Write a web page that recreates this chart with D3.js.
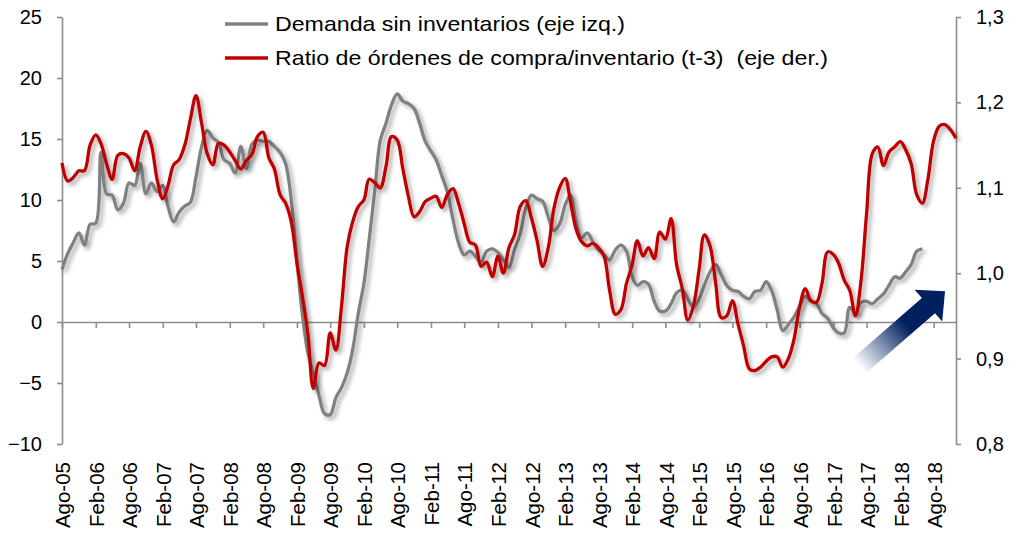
<!DOCTYPE html>
<html>
<head>
<meta charset="utf-8">
<script src="https://cdn.jsdelivr.net/npm/d3@7"></script>
<style>
  body { margin: 0; background: #fff; }
  svg { display: block; font-family: 'Liberation Sans', Arial, sans-serif; }
</style>
</head>
<body>
<svg id="chart" width="1020" height="541"></svg>
<script>
  'use strict';

  // monthly series, first value = Aug 2005
  var startMonth = new Date(2005, 7, 1);
  var endMonth = new Date(2018, 11, 1);

  var demanda = [
    4.3, 5.6, 6.5, 7.3, 6.3, 8.0, 8.1, 13.9, 10.5, 10.4, 9.2, 9.7,
    11.4, 11.2, 13.0, 10.5, 11.4, 10.7, 11.2, 9.5, 8.2, 9.0, 9.5, 9.8,
    11.9, 14.4, 15.7, 15.1, 14.7, 13.3, 13.0, 12.2, 14.4, 12.6, 14.6, 14.9,
    14.8, 14.8, 14.4, 13.9, 13.0, 10.0, 5.0, 0.8, -2.5, -4.2, -6.0, -7.5,
    -7.6, -6.2, -5.4, -4.2, -2.3, 0.7, 3.2, 6.7, 10.8, 14.9, 16.3, 17.8,
    18.7, 18.1, 17.9, 17.5, 16.3, 14.8, 14.0, 13.3, 12.0, 10.7, 8.4, 6.5,
    5.5, 5.8, 5.4, 4.9, 5.8, 6.0, 5.7, 5.1, 4.5, 5.9, 7.2, 9.3,
    10.4, 10.1, 9.9, 8.6, 7.5, 8.0, 9.6, 10.4, 8.2, 6.9, 7.3, 6.6,
    5.9, 5.5, 5.1, 5.9, 6.3, 5.8, 3.7, 3.0, 3.3, 3.1, 1.7, 0.9,
    0.9, 1.5, 2.4, 2.6, 1.9, 1.2, 1.9, 3.0, 4.1, 4.7, 3.9, 3.0,
    2.6, 2.5, 2.1, 1.9, 2.5, 2.6, 3.3, 2.6, 1.0, -0.7, -0.2, 0.4,
    1.3, 2.1, 1.7, 1.5, 0.7, 0.3, -0.5, -0.9, -0.9, 1.2, 0.7, 1.6,
    1.7, 1.5, 1.9, 2.3, 3.0, 3.7, 3.6, 4.1, 4.7, 5.8, 6.0
  ];

  var ratio = [
    1.129, 1.108, 1.112, 1.120, 1.120, 1.150, 1.162, 1.152, 1.128, 1.110, 1.138, 1.140,
    1.135, 1.120, 1.148, 1.166, 1.150, 1.110, 1.087, 1.102, 1.127, 1.133, 1.150, 1.180,
    1.208, 1.175, 1.140, 1.127, 1.152, 1.150, 1.142, 1.132, 1.122, 1.132, 1.139, 1.160,
    1.165, 1.135, 1.122, 1.092, 1.082, 1.060, 1.012, 0.975, 0.930, 0.865, 0.895, 0.892,
    0.930, 0.910, 0.960, 1.030, 1.060, 1.078, 1.086, 1.110, 1.106, 1.100, 1.125, 1.160,
    1.156, 1.122, 1.090, 1.066, 1.072, 1.084, 1.088, 1.090, 1.077, 1.092, 1.099, 1.082,
    1.058, 1.036, 1.033, 1.008, 1.013, 0.996, 1.020, 1.000, 1.030, 1.045, 1.078, 1.085,
    1.065, 1.038, 1.008, 1.030, 1.075, 1.100, 1.111, 1.085, 1.052, 1.037, 1.032, 1.035,
    1.030, 1.020, 0.980, 0.952, 0.957, 0.988, 1.010, 1.038, 1.020, 1.030, 1.017, 1.048,
    1.040, 1.064, 1.010, 0.982, 0.945, 0.962, 1.005, 1.045, 1.032, 0.990, 0.948, 0.950,
    0.968, 0.940, 0.915, 0.888, 0.886, 0.890, 0.897, 0.902, 0.902, 0.890, 0.900, 0.922,
    0.960, 0.982, 0.968, 0.966, 0.988, 1.025, 1.022, 1.012, 0.992, 0.980, 0.950, 0.990,
    1.070, 1.140, 1.148, 1.126, 1.142, 1.148, 1.154, 1.145, 1.128, 1.092, 1.082, 1.110,
    1.155, 1.172, 1.174, 1.168, 1.158
  ];

  var leftTicks = [-10, -5, 0, 5, 10, 15, 20, 25];
  var rightTicks = [0.8, 0.9, 1.0, 1.1, 1.2, 1.3];
  var monthNames = ['Ene', 'Feb', 'Mar', 'Abr', 'May', 'Jun', 'Jul', 'Ago', 'Sep', 'Oct', 'Nov', 'Dic'];
  var legendLabels = [
    'Demanda sin inventarios (eje izq.)',
    'Ratio de órdenes de compra/inventario (t-3)  (eje der.)'
  ];

  var grey = '#808080';
  var red = '#c00000';
  var axisGrey = '#8c8c8c';

  var plot = { left: 62, right: 956, top: 17, bottom: 444 };

  var svg = d3.select('#chart');

  var x = d3.scaleTime()
      .domain([startMonth, endMonth])
      .range([plot.left, plot.right]);
  var yLeft = d3.scaleLinear()
      .domain([-10, 25])
      .range([plot.bottom, plot.top]);
  var yRight = d3.scaleLinear()
      .domain([0.8, 1.3])
      .range([plot.bottom, plot.top]);

  var defs = svg.append('defs');

  var shadow = defs.append('filter')
      .attr('id', 'shadow')
      .attr('x', '-10%').attr('y', '-10%')
      .attr('width', '120%').attr('height', '120%');
  shadow.append('feDropShadow')
      .attr('dx', 3)
      .attr('dy', 3)
      .attr('stdDeviation', 2)
      .attr('flood-color', '#000')
      .attr('flood-opacity', 0.35);

  var grad = defs.append('linearGradient')
      .attr('id', 'arrowFill')
      .attr('x1', 0).attr('y1', 0)
      .attr('x2', 1).attr('y2', 0);
  grad.append('stop').attr('offset', '0').attr('stop-color', '#ffffff');
  grad.append('stop').attr('offset', '0.55').attr('stop-color', '#002060');
  grad.append('stop').attr('offset', '1').attr('stop-color', '#002060');

  function monthDate(i) {
    return d3.timeMonth.offset(startMonth, i);
  }

  // axes
  var leftAxis = d3.axisLeft(yLeft)
      .tickValues(leftTicks)
      .tickSize(5)
      .tickSizeOuter(0)
      .tickPadding(15)
      .tickFormat(d3.format('d'));

  var rightAxis = d3.axisRight(yRight)
      .tickValues(rightTicks)
      .tickSize(5)
      .tickSizeOuter(0)
      .tickPadding(15)
      .tickFormat(function(d) { return d3.format('.1f')(d).replace('.', ','); });

  var xTicks = d3.timeMonth.range(startMonth, new Date(2018, 8, 1), 6);

  var bottomAxis = d3.axisBottom(x)
      .tickValues(xTicks)
      .tickSize(6)
      .tickSizeOuter(0)
      .tickFormat('');

  function styleAxis(g) {
    g.selectAll('path, line')
        .attr('stroke', axisGrey)
        .attr('stroke-width', 1.6);
    g.selectAll('text')
        .attr('fill', '#000')
        .style('font-size', '20px')
        .style('font-family', "'Liberation Sans', Arial, sans-serif");
  }

  svg.append('g')
      .attr('transform', 'translate(' + plot.left + ',0)')
      .call(leftAxis)
      .call(styleAxis);

  svg.append('g')
      .attr('transform', 'translate(' + plot.right + ',0)')
      .call(rightAxis)
      .call(styleAxis);

  svg.append('g')
      .attr('transform', 'translate(0,' + yLeft(0) + ')')
      .call(bottomAxis)
      .call(styleAxis);

  svg.append('g')
      .attr('class', 'x-labels')
    .selectAll('text')
      .data(xTicks)
    .enter().append('text')
      .attr('transform', function(d) { return 'translate(' + (x(d) + 1) + ',462) rotate(-90)'; })
      .attr('dy', '0.35em')
      .attr('text-anchor', 'end')
      .style('font-size', '20.5px')
      .attr('fill', '#000')
      .text(function(d) {
        return monthNames[d.getMonth()] + '-' + d3.timeFormat('%y')(d);
      });

  // lines
  var demandaLine = d3.line()
      .x(function(d, i) { return x(monthDate(i)); })
      .y(function(d) { return yLeft(d); })
      .curve(d3.curveCatmullRom);

  var ratioLine = d3.line()
      .x(function(d, i) { return x(monthDate(i)); })
      .y(function(d) { return yRight(d); })
      .curve(d3.curveCatmullRom);

  svg.append('path')
      .datum(demanda)
      .attr('d', demandaLine)
      .attr('fill', 'none')
      .attr('stroke', grey)
      .attr('stroke-width', 3.3)
      .attr('stroke-linejoin', 'round')
      .attr('filter', 'url(#shadow)');

  svg.append('path')
      .datum(ratio)
      .attr('d', ratioLine)
      .attr('fill', 'none')
      .attr('stroke', red)
      .attr('stroke-width', 3.3)
      .attr('stroke-linejoin', 'round')
      .attr('filter', 'url(#shadow)');

  // arrow (annotation)
  var arrow = svg.append('g')
      .attr('transform', 'translate(859,366) rotate(-41)');
  arrow.append('path')
      .attr('d', 'M0,-10 L92,-10 L92,-21 L114,0 L92,21 L92,10 L0,10 Z')
      .attr('fill', 'url(#arrowFill)');

  // legend
  var legend = svg.append('g')
      .attr('class', 'legend');

  var legendItems = legend.selectAll('g')
      .data(legendLabels)
    .enter().append('g')
      .attr('transform', function(d, i) { return 'translate(225,' + (24 + i * 34) + ')'; });

  legendItems.append('line')
      .attr('x1', 0)
      .attr('x2', 43)
      .attr('stroke', function(d, i) { return i === 0 ? grey : red; })
      .attr('stroke-width', 3.5);

  legendItems.append('text')
      .attr('x', 50)
      .attr('y', 7)
      .attr('textLength', function(d, i) { return i === 0 ? 350 : 553; })
      .attr('lengthAdjust', 'spacingAndGlyphs')
      .style('white-space', 'pre')
      .style('font-size', '21px')
      .attr('fill', '#000')
      .text(function(d) { return d; });
</script>
</body>
</html>
